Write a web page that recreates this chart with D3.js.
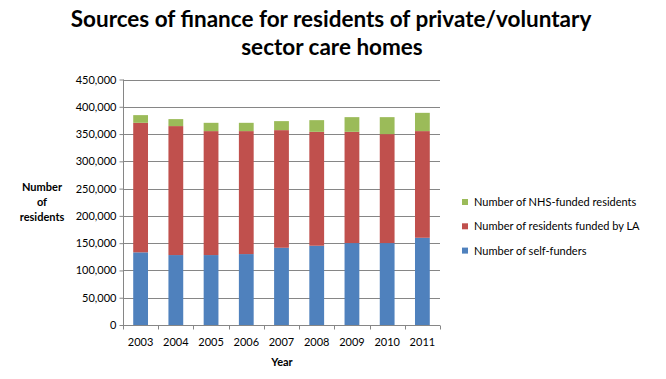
<!DOCTYPE html>
<html><head><meta charset="utf-8">
<script src="https://cdn.jsdelivr.net/npm/d3@7"></script>
<style>body{margin:0;background:#fff}svg{display:block}text{font-family:Lato,"Open Sans",sans-serif}</style>
</head><body><div id="c"></div>
<script>
const years = ["2003","2004","2005","2006","2007","2008","2009","2010","2011"];
const selfFunders = [133200,128200,128200,130000,141600,145300,150200,150200,159900];
const laFunded    = [237400,236400,227200,225400,215600,208800,203900,199700,195500];
const nhsFunded   = [14100,12800,15200,15200,16500,21400,26900,31100,33500];
const yTicks = [0,50000,100000,150000,200000,250000,300000,350000,400000,450000];
const seriesNames = ["Number of self-funders","Number of residents funded by LA","Number of NHS-funded residents"];
const colors = ["#4F81BD","#C0504D","#9BBB59"];

const W=666,H=379;
const svg=d3.select("#c").append("svg").attr("width",W).attr("height",H);
const x=d3.scaleBand().domain(years).range([123,440]).paddingInner(0.58).paddingOuter(0.29);
const y=d3.scaleLinear().domain([0,450000]).range([325,79.5]);

// gridlines
svg.append("g").selectAll("line").data(yTicks.slice(1)).join("line")
  .attr("x1",123).attr("x2",440).attr("y1",d=>Math.round(y(d))+0.5).attr("y2",d=>Math.round(y(d))+0.5)
  .attr("stroke","#868686").attr("stroke-width",1);

const rows=years.map((yr,i)=>({year:yr,s0:selfFunders[i],s1:laFunded[i],s2:nhsFunded[i]}));
const stack=d3.stack().keys(["s0","s1","s2"])(rows);
svg.append("g").selectAll("g").data(stack).join("g").attr("fill",(d,i)=>colors[i])
  .selectAll("rect").data(d=>d).join("rect")
  .attr("x",d=>x(d.data.year)).attr("width",x.bandwidth())
  .attr("y",d=>y(d[1])).attr("height",d=>y(d[0])-y(d[1]));

// y axis
const ya=svg.append("g").attr("transform","translate(123.5,0)")
  .call(d3.axisLeft(y).tickValues(yTicks).tickFormat(d3.format(",")).tickSize(4).tickPadding(3));
ya.select(".domain").attr("stroke","#868686").attr("d","M0,79.5V325");
ya.selectAll(".tick line").attr("stroke","#868686");
ya.selectAll("text").attr("font-size",11).attr("fill","#000").attr("font-family","Lato,sans-serif");

// x axis
const xa=svg.append("g").attr("transform","translate(0,325.5)")
  .call(d3.axisBottom(x).tickSize(0).tickPadding(13));
xa.select(".domain").attr("stroke","#868686").attr("d","M123,0H440");
xa.selectAll("text").attr("font-size",11).attr("fill","#000").attr("font-family","Lato,sans-serif");
const bounds=years.map((d,i)=>123+i*(317/9)).concat([440]);
xa.append("g").selectAll("line").data(bounds).join("line")
  .attr("x1",d=>Math.round(d)+0.5).attr("x2",d=>Math.round(d)+0.5).attr("y1",0).attr("y2",4).attr("stroke","#868686");

// titles
const t=svg.append("text").attr("text-anchor","middle").attr("font-weight","bold").attr("font-size",22.5).attr("fill","#000");
t.append("tspan").attr("x",331).attr("y",27).text("Sources of finance for residents of private/voluntary");
t.append("tspan").attr("x",332).attr("y",55).text("sector care homes");

svg.append("text").attr("x",282).attr("y",366).attr("text-anchor","middle").attr("font-weight","bold").attr("font-size",11).text("Year");
const yt=svg.append("text").attr("text-anchor","middle").attr("font-weight","bold").attr("font-size",11);
["Number","of","residents"].forEach((s,i)=>yt.append("tspan").attr("x",42).attr("y",191+i*15).text(s));

// legend
const leg=svg.append("g");
const legOrder=[2,1,0];
legOrder.forEach((si,k)=>{
  const gy=202+k*24.3;
  leg.append("rect").attr("x",462).attr("y",gy-3).attr("width",6).attr("height",6).attr("fill",colors[si]);
  leg.append("text").attr("x",474).attr("y",gy+4).attr("font-size",11).attr("fill","#000").text(seriesNames[si]);
});
</script></body></html>
